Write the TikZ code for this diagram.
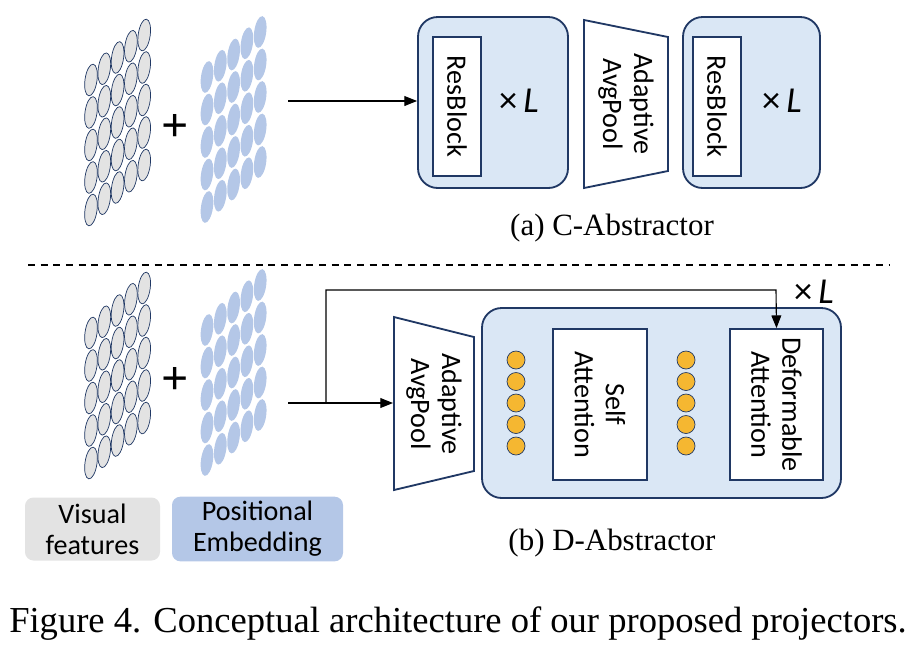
\documentclass[tikz,border=0pt]{standalone}
\usepackage{fontspec}
\setmainfont{Liberation Serif}
\newfontfamily\calfont{Carlito}
\usetikzlibrary{arrows.meta}
\definecolor{bluefill}{HTML}{DAE7F5}
\definecolor{edge}{HTML}{203864}
\definecolor{pe}{HTML}{B4C7E7}
\definecolor{vf}{HTML}{E3E3E3}
\definecolor{dot}{HTML}{F5B731}
\tikzset{
 bigbox/.style={draw=edge,line width=1.3pt,fill=bluefill,rounded corners=14pt},
 inbox/.style={draw=edge,line width=1.3pt,fill=white},
 lab/.style={font=\calfont\fontsize{20}{22}\selectfont,align=center},
 times/.style={font=\calfont\fontsize{26}{28}\selectfont},
 arr/.style={-{Triangle[length=9pt,width=7pt]},line width=0.8pt},
 vfe/.style={draw=edge,line width=0.5pt,fill=vf},
 pee/.style={fill=pe},
}
\newcommand{\mygrid}[4]{% x0 y0 style dx
 \foreach \c in {0,...,4}{\foreach \r in {0,...,4}{
  \path[#3,rotate around={-8:({#1+#4*\c},{#2-11.25*\c+32.5*\r})}] ({#1+#4*\c},{#2-11.25*\c+32.5*\r}) ellipse (6 and 16);}}}
\begin{document}
\begin{tikzpicture}[x=0.025cm,y=-0.025cm]
\useasboundingbox (0,0) rectangle (912,646);
% top
\mygrid{91}{80}{vfe}{13.3}
\mygrid{207}{77}{pee}{13.3}
\node[font=\bfseries\fontsize{34}{34}\selectfont] (p1) at (175,128) {+};
\coordinate (s1) at (288,101);
\node[bigbox,minimum width=150*0.025cm,minimum height=171*0.025cm] (b1) at (493,102.5) {};
\node[inbox,minimum width=48*0.025cm,minimum height=139*0.025cm] (r1) at (457,106.5) {};
\node[lab,rotate=-90] at (r1) {ResBlock};
\node[times] at (519,101) {×\,\textit{L}};
\draw[arr] (s1) -- (b1.west|-s1);
\draw[draw=edge,line width=1.3pt,fill=white] (584,20) -- (668,37) -- (668,171) -- (584,188) -- cycle;
\node[lab,rotate=-90] (t1) at (626,104) {Adaptive\\AvgPool};
\node[bigbox,minimum width=137*0.025cm,minimum height=171*0.025cm] (b2) at (751.5,102.5) {};
\node[inbox,minimum width=48*0.025cm,minimum height=139*0.025cm] (r2) at (717,106.5) {};
\node[lab,rotate=-90] at (r2) {ResBlock};
\node[times] at (782,101) {×\,\textit{L}};
\node[font=\fontsize{22}{24}\selectfont] (ca) at (612,228) {(a) C-Abstractor};
\draw[dashed,line width=0.8pt,dash pattern=on 5pt off 4pt] (28,265) -- (890,265);
% bottom
\mygrid{91}{333}{vfe}{13.3}
\mygrid{207}{330}{pee}{13.3}
\node[font=\bfseries\fontsize{34}{34}\selectfont] (p2) at (175,381) {+};
\coordinate (s2) at (288,403);
\coordinate (j) at (326,403);
\draw[draw=edge,line width=1.3pt,fill=white] (394,317) -- (474,337) -- (474,471) -- (394,490) -- cycle;
\node[lab,rotate=-90] (t2) at (434,404) {Adaptive\\AvgPool};
\coordinate (tin) at (393,403);
\draw[arr] (s2) -- (tin);
\node[bigbox,minimum width=359*0.025cm,minimum height=190*0.025cm] (b3) at (661.5,403) {};
\node[inbox,minimum width=94*0.025cm,minimum height=151*0.025cm] (sa) at (600,404.5) {};
\node[lab,rotate=-90] at (sa) {Self\\Attention};
\node[inbox,minimum width=93*0.025cm,minimum height=151*0.025cm] (da) at (776.5,404.5) {};
\node[lab,rotate=-90] at (da) {Deformable\\Attention};
\foreach \i in {0,...,4}{
 \filldraw[fill=dot,draw=edge,line width=0.5pt] (516,{360+21.5*\i}) circle (9);
 \filldraw[fill=dot,draw=edge,line width=0.5pt] (686,{360+21.5*\i}) circle (9);}
\draw[arr] (j) -- (326,290) -- (776,290) -- (da.north);
\node[times] at (814,292) {×\,\textit{L}};
\node[fill=vf,rounded corners=6pt,minimum width=135*0.025cm,minimum height=63*0.025cm,lab] (l1) at (92.5,529) {Visual\\features};
\node[fill=pe,rounded corners=6pt,minimum width=171*0.025cm,minimum height=63*0.025cm,lab] (l2) at (257.5,529) {Positional\\Embedding};
\node[font=\fontsize{22}{24}\selectfont] (cb) at (612,543) {(b) D-Abstractor};
\node[font=\fontsize{26}{28}\selectfont] (cap) at (458,624) {Figure 4. Conceptual architecture of our proposed projectors.};
\end{tikzpicture}
\end{document}
